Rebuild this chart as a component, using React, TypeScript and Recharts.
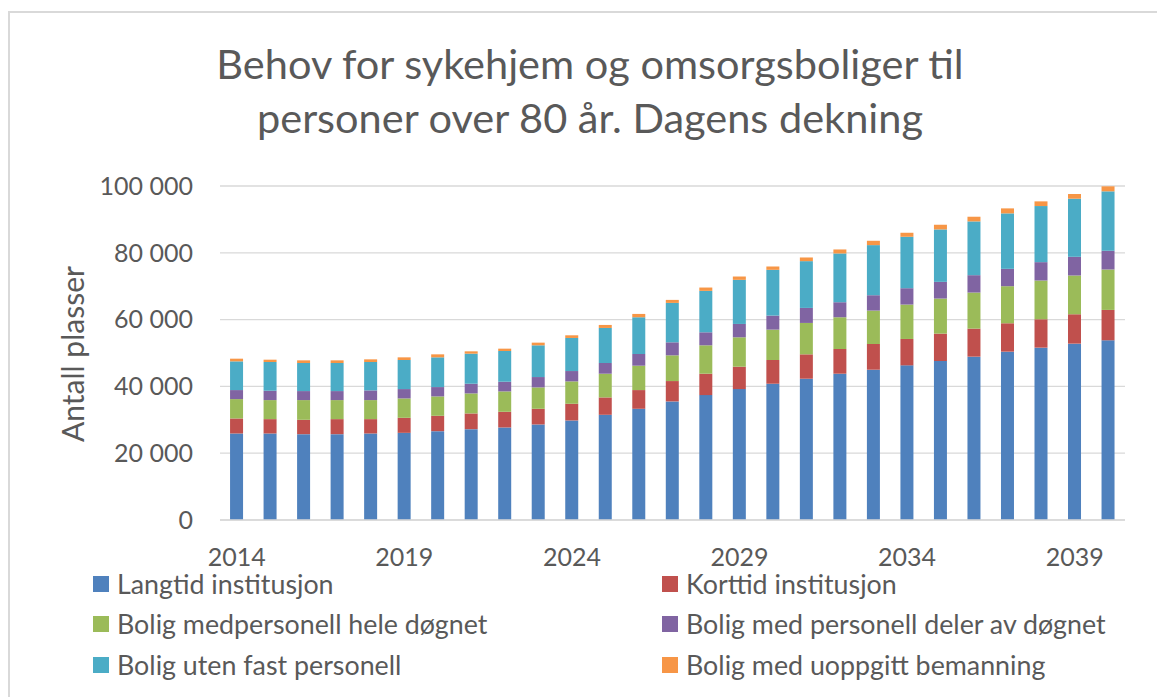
import React from 'react';
import { BarChart, Bar, XAxis, YAxis, CartesianGrid } from 'recharts';

const years = ['2014', '2015', '2016', '2017', '2018', '2019', '2020', '2021', '2022', '2023', '2024', '2025', '2026', '2027',
  '2028', '2029', '2030', '2031', '2032', '2033', '2034', '2035', '2036', '2037', '2038', '2039', '2040'];

const langtid = [25900, 25900, 25700, 25700, 25900, 26100, 26600, 27200, 27700, 28600, 29800, 31500, 33300, 35500,
  37400, 39200, 40800, 42300, 43800, 45000, 46300, 47600, 48900, 50400, 51600, 52800, 53800];
const korttid = [4500, 4300, 4300, 4500, 4300, 4500, 4600, 4700, 4700, 4700, 5000, 5200, 5600, 6100,
  6400, 6700, 7100, 7300, 7400, 7700, 7900, 8200, 8400, 8500, 8500, 8800, 9100];
const heleDognet = [5800, 5700, 5900, 5700, 5700, 5800, 5800, 6000, 6100, 6400, 6700, 7100, 7300, 7700,
  8500, 8800, 9100, 9400, 9500, 10000, 10300, 10500, 10800, 11100, 11600, 11600, 12100];
const delerDognet = [2700, 2800, 2700, 2700, 2900, 2800, 2800, 2900, 2900, 3100, 3100, 3200, 3500, 3900,
  3900, 4000, 4200, 4500, 4500, 4600, 4900, 5000, 5200, 5200, 5500, 5600, 5600];
const utenFast = [8600, 8600, 8400, 8400, 8500, 8700, 8900, 9000, 9200, 9500, 9900, 10500, 11000, 11800,
  12400, 13200, 13700, 14000, 14600, 15000, 15400, 15700, 16100, 16600, 16800, 17400, 17800];
const uoppgitt = [800, 700, 800, 800, 800, 800, 900, 700, 700, 800, 800, 900, 1000, 900,
  1000, 1000, 1000, 1100, 1200, 1300, 1200, 1400, 1400, 1500, 1400, 1400, 1500];

const yTicks = [0, 20000, 40000, 60000, 80000, 100000];

const series = [
  { key: 'langtid', name: 'Langtid institusjon', color: '#4F81BD', values: langtid },
  { key: 'korttid', name: 'Korttid institusjon', color: '#C0504D', values: korttid },
  { key: 'heleDognet', name: 'Bolig medpersonell hele døgnet', color: '#9BBB59', values: heleDognet },
  { key: 'delerDognet', name: 'Bolig med personell deler av døgnet', color: '#8064A2', values: delerDognet },
  { key: 'utenFast', name: 'Bolig uten fast personell', color: '#4BACC6', values: utenFast },
  { key: 'uoppgitt', name: 'Bolig med uoppgitt bemanning', color: '#F79646', values: uoppgitt },
];

const data = years.map((year, i) => {
  const row: Record<string, string | number> = { year };
  series.forEach(s => { row[s.key] = s.values[i]; });
  return row;
});

const FONT = 'Lato, "Open Sans", sans-serif';
const TEXT = '#595959';

const fmt = (v: number) => String(v).replace(/\B(?=(\d{3})+(?!\d))/g, ' ');

// legend is laid out in two columns, three rows (Excel style)
const legendCols = [93, 662];
const legendRows = [584, 624, 665];

export default function App() {
  return (
    <div style={{ position: 'absolute', left: 0, top: 0, width: 1157, height: 697, background: '#fff', overflow: 'hidden', fontFamily: FONT }}>
      <div style={{ position: 'absolute', left: 8, top: 11, width: 1200, height: 800, border: '2px solid #d9d9d9' }} />
      <BarChart
        width={1157}
        height={697}
        data={data}
        margin={{ top: 186, right: 32, bottom: 147, left: 100 }}
        barCategoryGap="30%"
        style={{ position: 'absolute', left: 0, top: 0 }}
      >
        <CartesianGrid vertical={false} stroke="#d9d9d9" strokeWidth={1.3} />
        <XAxis
          dataKey="year"
          height={30}
          interval={4}
          tickLine={false}
          tickSize={0}
          tickMargin={28}
          axisLine={{ stroke: '#d9d9d9', strokeWidth: 1.3 }}
          tick={{ fill: TEXT, fontSize: 25, fontFamily: FONT }}
        />
        <YAxis
          width={120}
          domain={[0, 100000]}
          ticks={yTicks}
          tickFormatter={fmt}
          axisLine={false}
          tickLine={false}
          tickSize={0}
          tickMargin={27}
          tick={{ fill: TEXT, fontSize: 25, fontFamily: FONT }}
        />
        {series.map(s => (
          <Bar key={s.key} dataKey={s.key} name={s.name} stackId="a" fill={s.color} isAnimationActive={false} />
        ))}
      </BarChart>

      <svg width={1157} height={697} style={{ position: 'absolute', left: 0, top: 0, pointerEvents: 'none' }}>
        <text x={590} y={79} textAnchor="middle" fontSize={41.5} fill={TEXT} fontFamily={FONT}>
          Behov for sykehjem og omsorgsboliger til
        </text>
        <text x={590} y={133} textAnchor="middle" fontSize={41.5} fill={TEXT} fontFamily={FONT}>
          personer over 80 år. Dagens dekning
        </text>
        <text
          x={72}
          y={354}
          textAnchor="middle"
          dominantBaseline="central"
          transform="rotate(-90 72 354)"
          fontSize={30}
          fill={TEXT}
          fontFamily={FONT}
        >
          Antall plasser
        </text>
      </svg>

      {series.map((s, i) => (
        <div
          key={s.key}
          style={{
            position: 'absolute',
            left: legendCols[i % 2],
            top: legendRows[Math.floor(i / 2)] - 16,
            height: 32,
            display: 'flex',
            alignItems: 'center',
            whiteSpace: 'nowrap',
            color: TEXT,
            fontSize: 26.8,
          }}
        >
          <span style={{ display: 'inline-block', width: 16, height: 16, background: s.color, marginRight: 8 }} />
          <span>{s.name}</span>
        </div>
      ))}
    </div>
  );
}
